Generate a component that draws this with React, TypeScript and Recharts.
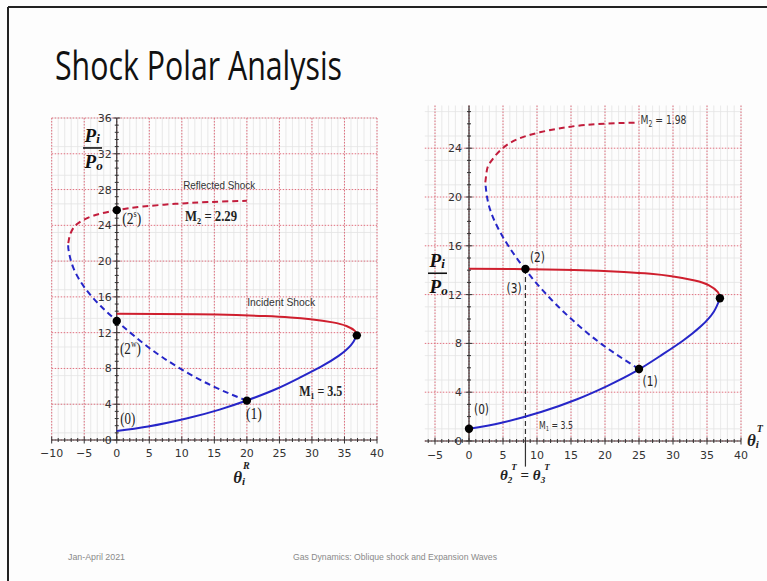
import React from 'react';
import {
  ComposedChart,
  Line,
  Scatter,
  XAxis,
  YAxis,
  CartesianGrid,
  ReferenceLine,
  ReferenceDot,
} from 'recharts';

type Pt = { x: number; y: number };

// ---- Incident shock polar, M1 = 3.5 (same polar in both panels) ----
const incidentWeak: Pt[] = [
  { x: 0, y: 1.0 }, { x: 4.8, y: 1.5 }, { x: 10.7, y: 2.4 }, { x: 15.8, y: 3.4 },
  { x: 20.3, y: 4.5 }, { x: 24.5, y: 5.7 }, { x: 28.2, y: 7.0 }, { x: 31.4, y: 8.2 },
  { x: 34.1, y: 9.4 }, { x: 36.0, y: 10.6 }, { x: 36.9, y: 11.7 },
];
const incidentStrong: Pt[] = [
  { x: 36.9, y: 11.7 }, { x: 36.6, y: 12.2 }, { x: 35.3, y: 12.75 }, { x: 33.2, y: 13.15 },
  { x: 29.8, y: 13.5 }, { x: 26.7, y: 13.7 }, { x: 22.8, y: 13.85 }, { x: 15.4, y: 14.02 },
  { x: 6.5, y: 14.1 }, { x: 0, y: 14.12 },
];

// ---- Left panel: reflected shock polar, M2 = 2.29 ----
const reflectedWeakR: Pt[] = [
  { x: 20, y: 4.4 }, { x: 14.8, y: 6.0 }, { x: 9.5, y: 8.1 }, { x: 4.8, y: 10.4 },
  { x: 0.8, y: 12.8 }, { x: -2.5, y: 15.0 }, { x: -5.0, y: 17.1 }, { x: -6.7, y: 19.3 },
  { x: -7.4, y: 21.2 }, { x: -7.45, y: 22.0 },
];
const reflectedStrongR: Pt[] = [
  { x: -7.45, y: 22.0 }, { x: -7.1, y: 23.1 }, { x: -6.0, y: 24.2 }, { x: -3.5, y: 25.1 },
  { x: 0, y: 25.7 }, { x: 4, y: 26.1 }, { x: 9, y: 26.4 }, { x: 14, y: 26.6 }, { x: 20, y: 26.75 },
];
const pointsR: Pt[] = [
  { x: 0, y: 25.7 }, { x: 0, y: 13.3 }, { x: 20, y: 4.4 }, { x: 36.9, y: 11.7 },
];

// ---- Right panel: reflected shock polar, M2 = 1.98 ----
const reflectedWeakT: Pt[] = [
  { x: 25, y: 5.9 }, { x: 19.6, y: 7.9 }, { x: 14.75, y: 10.15 }, { x: 10.6, y: 12.5 },
  { x: 7.2, y: 14.85 }, { x: 4.6, y: 17.1 }, { x: 2.95, y: 19.25 }, { x: 2.4, y: 21.2 },
];
const reflectedStrongT: Pt[] = [
  { x: 2.4, y: 21.2 }, { x: 2.6, y: 22.1 }, { x: 3.2, y: 22.9 }, { x: 5.8, y: 24.35 },
  { x: 10.4, y: 25.3 }, { x: 17.0, y: 25.9 }, { x: 25, y: 26.1 },
];
const pointsT: Pt[] = [
  { x: 0, y: 1.0 }, { x: 25, y: 5.9 }, { x: 8.3, y: 14.1 }, { x: 36.9, y: 11.7 },
];
const transmittedAngle = 8.3;

// ---- Axis ticks ----
const xMajorR = [-10, -5, 0, 5, 10, 15, 20, 25, 30, 35, 40];
const yMajorR = [0, 4, 8, 12, 16, 20, 24, 28, 32, 36];
const xMajorT = [-5, 0, 5, 10, 15, 20, 25, 30, 35, 40];
const yMajorT = [0, 4, 8, 12, 16, 20, 24];

const range = (a: number, b: number, step: number) => {
  const out: number[] = [];
  for (let i = 0; a + i * step <= b + 1e-9; i++) out.push(Math.round((a + i * step) * 100) / 100);
  return out;
};
const xMinorR = range(-10, 40, 1);
const yMinorR = range(0, 36, 0.8);
const xMinorT = range(-6, 40, 1);
const yMinorT = range(0, 27, 1);

const BLUE = '#2626c8';
const RED = '#cf1f2e';
const RED_D = '#c21d3c';
const AX = '#333';
const TICK_FONT = 'DejaVu Sans, Verdana, sans-serif';
const SERIF = 'Liberation Serif, Times New Roman, serif';
const SANS = 'Liberation Sans, Arial, sans-serif';

const fmt = (v: number) => (v < 0 ? '\u2212' + Math.abs(v) : String(v));

const makeXTick = (majors: number[], labelDy: number) => (props: any) => {
  const { x, y, payload } = props;
  const v = payload.value;
  const isMajor = majors.includes(v);
  const h = isMajor ? 3.5 : 2;
  return (
    <g>
      <line x1={x} x2={x} y1={y - h} y2={y + h} stroke={AX} strokeWidth={1} />
      {isMajor && (
        <text x={x} y={y + labelDy} textAnchor="middle" fontSize={11} fill={AX} fontFamily={TICK_FONT}>
          {fmt(v)}
        </text>
      )}
    </g>
  );
};

const yTickDots = (prefix: string, minor: number[], major: number[], gap: number) => {
  const els: React.ReactNode[] = minor
    .filter((v) => !major.includes(v))
    .map((v) => (
      <ReferenceDot
        key={prefix + 'm' + v}
        x={0}
        y={v}
        r={0}
        ifOverflow="visible"
        shape={(p: any) => <line x1={p.cx - 2} x2={p.cx + 2} y1={p.cy} y2={p.cy} stroke={AX} strokeWidth={1} />}
      />
    ));
  major.forEach((v) =>
    els.push(
      <ReferenceDot
        key={prefix + 'M' + v}
        x={0}
        y={v}
        r={0}
        ifOverflow="visible"
        shape={(p: any) => (
          <g>
            <line x1={p.cx - 3.5} x2={p.cx + 3.5} y1={p.cy} y2={p.cy} stroke={AX} strokeWidth={1} />
            <text x={p.cx - gap} y={p.cy} dy="0.36em" textAnchor="end" fontSize={11} fill={AX} fontFamily={TICK_FONT}>
              {fmt(v)}
            </text>
          </g>
        )}
      />
    )
  );
  return els;
};

const note = (key: string, x: number, y: number, render: (cx: number, cy: number) => React.ReactNode) => (
  <ReferenceDot key={key} x={x} y={y} r={0} ifOverflow="visible" shape={(p: any) => <g>{render(p.cx, p.cy)}</g>} />
);

const centered = (
  cx: number,
  cy: number,
  content: React.ReactNode,
  width: number,
  size: number,
  family: string,
  weight: string = 'normal',
  fill: string = '#222'
) => (
  <text
    x={cx}
    y={cy}
    dy="0.35em"
    textAnchor="middle"
    textLength={width}
    lengthAdjust="spacingAndGlyphs"
    fontSize={size}
    fontFamily={family}
    fontWeight={weight}
    fill={fill}
  >
    {content}
  </text>
);

const fraction = (cx: number, cy: number) => (
  <g fontFamily={SERIF} fontStyle="italic" fontWeight="bold" fill="#111">
    <text x={cx - 8} y={cy - 6} fontSize={19}>
      P<tspan fontSize={13} dy={1}>i</tspan>
    </text>
    <line x1={cx - 9.5} x2={cx + 9.5} y1={cy} y2={cy} stroke="#111" strokeWidth={1.6} />
    <text x={cx - 8} y={cy + 20} fontSize={19}>
      P<tspan fontSize={13} dy={2}>o</tspan>
    </text>
  </g>
);

const thetaLabel = (cx: number, cy: number, sup: string) => (
  <text x={cx} y={cy} fontFamily={SERIF} fontStyle="italic" fontWeight="bold" fill="#222" fontSize={17}>
    θ<tspan fontSize={11} dy={2}>i</tspan>
    <tspan fontSize={10} dx={-2} dy={-16}>{sup}</tspan>
  </text>
);

const dotShape = (p: any) => <circle cx={p.cx} cy={p.cy} r={4.2} fill="#000" />;

const lineCommon = {
  dataKey: 'y',
  type: 'natural' as const,
  strokeWidth: 2,
  dot: false,
  activeDot: false,
  isAnimationActive: false,
};

function LeftPanel() {
  return (
    <ComposedChart width={375} height={400} margin={{ top: 23, right: 18, bottom: 25, left: 31.7 }}>
      <CartesianGrid verticalValues={xMinorR} horizontalValues={yMinorR} stroke="#e3e3e3" strokeWidth={0.8} />
      <CartesianGrid
        verticalValues={xMajorR}
        horizontalValues={yMajorR}
        stroke="#e0707f"
        strokeDasharray="1.5 1.5"
        strokeWidth={1}
      />
      <XAxis
        type="number"
        dataKey="x"
        domain={[-10, 40]}
        ticks={xMinorR}
        interval={0}
        allowDataOverflow
        tickSize={0}
        tickMargin={0}
        tickLine={false}
        axisLine={{ stroke: AX, strokeWidth: 1.2 }}
        tick={makeXTick(xMajorR, 17)}
        height={30}
      />
      <YAxis type="number" dataKey="y" domain={[0, 36]} allowDataOverflow hide />
      <ReferenceLine x={0} stroke={AX} strokeWidth={1.2} ifOverflow="visible" />
      {yTickDots('r', yMinorR, yMajorR, 5)}

      <Line {...lineCommon} data={incidentWeak} stroke={BLUE} />
      <Line {...lineCommon} data={incidentStrong} stroke={RED} />
      <Line {...lineCommon} data={reflectedWeakR} stroke={BLUE} strokeDasharray="6 4" />
      <Line {...lineCommon} data={reflectedStrongR} stroke={RED_D} strokeDasharray="6 4" />
      <Scatter data={pointsR} dataKey="y" shape={dotShape} isAnimationActive={false} />

      {note('rs', 15.75, 28.5, (cx, cy) => centered(cx, cy, 'Reflected Shock', 72, 11, SANS, 'normal', '#333'))}
      {note('m2', 14.5, 25.0, (cx, cy) =>
        centered(cx, cy, <>M<tspan fontSize={9} dy={3}>2</tspan><tspan dy={-3}> = 2.29</tspan></>, 52, 14, SERIF, 'bold')
      )}
      {note('p2s', 2.3, 24.8, (cx, cy) =>
        centered(cx, cy, <>(2<tspan fontSize={10} dy={-7}>s</tspan><tspan dy={7}>)</tspan></>, 19, 17, SERIF)
      )}
      {note('p2w', 2.1, 10.3, (cx, cy) =>
        centered(cx, cy, <>(2<tspan fontSize={10} dy={-7}>w</tspan><tspan dy={7}>)</tspan></>, 21, 17, SERIF)
      )}
      {note('p0', 1.7, 2.46, (cx, cy) => centered(cx, cy, '(0)', 15, 17, SERIF))}
      {note('p1', 21.08, 3.02, (cx, cy) => centered(cx, cy, '(1)', 16, 17, SERIF))}
      {note('m1', 31.35, 5.51, (cx, cy) =>
        centered(cx, cy, <>M<tspan fontSize={9} dy={3}>1</tspan><tspan dy={-3}> = 3.5</tspan></>, 43, 14, SERIF, 'bold')
      )}
      {note('is', 25.28, 15.46, (cx, cy) => centered(cx, cy, 'Incident Shock', 68, 11, SANS, 'normal', '#333'))}
      {note('frac', -3.72, 32.65, (cx, cy) => fraction(cx, cy))}
      {note('thr', 17.9, -4.8, (cx, cy) => thetaLabel(cx, cy, 'R'))}
    </ComposedChart>
  );
}

function RightPanel() {
  return (
    <ComposedChart width={367} height={400} margin={{ top: 10.5, right: 26, bottom: 24, left: 24.8 }}>
      <CartesianGrid verticalValues={xMinorT} horizontalValues={yMinorT} stroke="#e3e3e3" strokeWidth={0.8} />
      <CartesianGrid
        verticalValues={xMajorT}
        horizontalValues={yMajorT}
        stroke="#e0707f"
        strokeDasharray="1.5 1.5"
        strokeWidth={1}
      />
      <XAxis
        type="number"
        dataKey="x"
        domain={[-6.5, 40]}
        ticks={xMinorT}
        interval={0}
        allowDataOverflow
        tickSize={0}
        tickMargin={0}
        tickLine={false}
        axisLine={{ stroke: AX, strokeWidth: 1.2 }}
        tick={makeXTick(xMajorT, 18)}
        height={30}
      />
      <YAxis type="number" dataKey="y" domain={[0, 27.5]} allowDataOverflow hide />
      <ReferenceLine x={0} stroke={AX} strokeWidth={1.2} ifOverflow="visible" />
      {yTickDots('t', yMinorT, yMajorT, 7)}

      <ReferenceLine
        segment={[{ x: transmittedAngle, y: 14.1 }, { x: transmittedAngle, y: 0 }]}
        stroke="#333"
        strokeWidth={1.2}
        strokeDasharray="5 3"
        ifOverflow="visible"
      />
      <ReferenceLine
        segment={[{ x: transmittedAngle, y: 0 }, { x: transmittedAngle, y: -2.1 }]}
        stroke="#333"
        strokeWidth={1.2}
        ifOverflow="visible"
      />

      <Line {...lineCommon} data={incidentWeak} stroke={BLUE} />
      <Line {...lineCommon} data={incidentStrong} stroke={RED} />
      <Line {...lineCommon} data={reflectedWeakT} stroke={BLUE} strokeDasharray="6 4" />
      <Line {...lineCommon} data={reflectedStrongT} stroke={RED_D} strokeDasharray="6 4" />
      <Scatter data={pointsT} dataKey="y" shape={dotShape} isAnimationActive={false} />

      {note('m2t', 28.6, 26.3, (cx, cy) =>
        centered(cx, cy, <>M<tspan fontSize={8} dy={3}>2</tspan><tspan dy={-3}> = 1.98</tspan></>, 46, 12, TICK_FONT, 'normal', '#333')
      )}
      {note('q2', 10.07, 15.1, (cx, cy) => centered(cx, cy, '(2)', 15, 14, TICK_FONT))}
      {note('q3', 6.62, 12.54, (cx, cy) => centered(cx, cy, '(3)', 15, 14, TICK_FONT))}
      {note('q1', 26.62, 4.94, (cx, cy) => centered(cx, cy, '(1)', 15, 14, TICK_FONT))}
      {note('q0', 1.84, 2.62, (cx, cy) => centered(cx, cy, '(0)', 15, 14, TICK_FONT))}
      {note('m1t', 12.8, 1.31, (cx, cy) =>
        centered(cx, cy, <>M<tspan fontSize={7} dy={2}>1</tspan><tspan dy={-2}> = 3.5</tspan></>, 34, 10.5, TICK_FONT, 'normal', '#333')
      )}
      {note('fract', -4.63, 13.75, (cx, cy) => fraction(cx, cy))}
      {note('tht', 40.88, -0.41, (cx, cy) => thetaLabel(cx, cy, 'T'))}
      {note('th23', 4.56, -3.2, (cx, cy) => (
        <text x={cx} y={cy} fontFamily={SERIF} fontStyle="italic" fontWeight="bold" fill="#222" fontSize={15}>
          θ<tspan fontSize={9} dy={3}>2</tspan>
          <tspan fontSize={9} dx={-1} dy={-13}>T</tspan>
          <tspan fontStyle="normal" dy={10}> = </tspan>
          θ<tspan fontSize={9} dy={3}>3</tspan>
          <tspan fontSize={9} dx={-1} dy={-13}>T</tspan>
        </text>
      ))}
    </ComposedChart>
  );
}

export default function App() {
  return (
    <div
      style={{
        position: 'absolute',
        left: 0,
        top: 0,
        width: 767,
        height: 581,
        background: '#fdfdfd',
        overflow: 'hidden',
      }}
    >
      <svg width={767} height={581} style={{ position: 'absolute', left: 0, top: 0 }}>
        <line x1={8} x2={767} y1={7} y2={7} stroke="#222" strokeWidth={2} />
        <line x1={8} x2={8} y1={7} y2={581} stroke="#222" strokeWidth={2} />
        <text
          x={55}
          y={80}
          fontFamily="Open Sans, Lato, sans-serif"
          fontSize={41}
          fill="#111"
          textLength={287}
          lengthAdjust="spacingAndGlyphs"
        >
          Shock Polar Analysis
        </text>
        <text x={68} y={560} fontFamily={SANS} fontSize={9.5} fill="#8a8a8a" textLength={57} lengthAdjust="spacingAndGlyphs">
          Jan-April 2021
        </text>
        <text x={293} y={560} fontFamily={SANS} fontSize={9.5} fill="#8a8a8a" textLength={204} lengthAdjust="spacingAndGlyphs">
          Gas Dynamics: Oblique shock  and Expansion Waves
        </text>
      </svg>
      <div style={{ position: 'absolute', left: 20, top: 95 }}>
        <LeftPanel />
      </div>
      <div style={{ position: 'absolute', left: 400, top: 95 }}>
        <RightPanel />
      </div>
    </div>
  );
}
